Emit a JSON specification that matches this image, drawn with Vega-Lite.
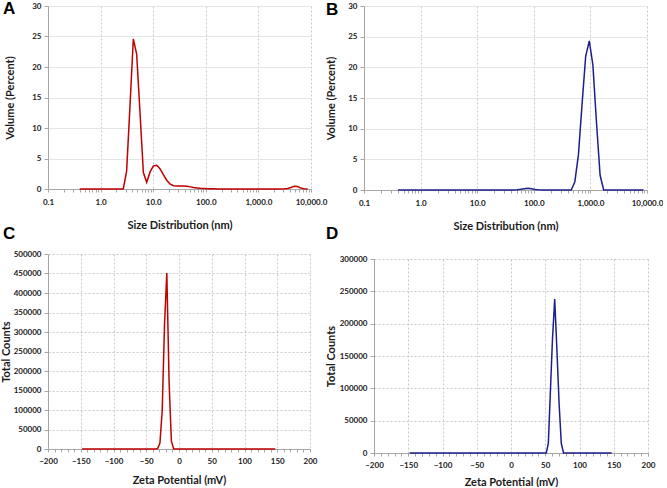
{
  "$schema": "https://vega.github.io/schema/vega-lite/v6.json",
  "padding": {"left": 0, "top": 0, "right": 0, "bottom": 0},
  "config": {
    "view": {"stroke": null},
    "font": "Lato",
    "axis": {
      "labelFont": "Lato", "labelFontWeight": "bold", "labelFontSize": 8, "labelColor": "#1a1a1a", "labelFlush": false,
      "titleFont": "Lato", "titleFontWeight": "bold", "titleFontSize": 11, "titleColor": "#1a1a1a",
      "domainColor": "#a6a6a6", "tickColor": "#a6a6a6", "labelOverlap": false, "labelBound": false,
      "gridColor": "#c8c8c8", "gridDash": [2, 2]
    },
    "title": {"font": "Liberation Sans", "fontSize": 17, "fontWeight": "bold", "anchor": "start", "orient": "none", "offset": 0, "baseline": "top", "align": "left", "color": "#000000"}
  },
  "datasets": {
    "A": [
      {"size": 0.4, "volume": 0}, {"size": 0.4632, "volume": 0}, {"size": 0.5365, "volume": 0}, {"size": 0.6213, "volume": 0},
      {"size": 0.7195, "volume": 0}, {"size": 0.8332, "volume": 0}, {"size": 0.965, "volume": 0}, {"size": 1.117, "volume": 0},
      {"size": 1.294, "volume": 0}, {"size": 1.499, "volume": 0}, {"size": 1.736, "volume": 0}, {"size": 2.01, "volume": 0},
      {"size": 2.328, "volume": 0}, {"size": 2.696, "volume": 0}, {"size": 3.122, "volume": 2.9}, {"size": 3.615, "volume": 13.5},
      {"size": 4.187, "volume": 24.6}, {"size": 4.849, "volume": 22.1}, {"size": 5.615, "volume": 12.5}, {"size": 6.503, "volume": 2.7},
      {"size": 7.531, "volume": 1.1}, {"size": 8.721, "volume": 2.8}, {"size": 10.1, "volume": 3.8}, {"size": 11.7, "volume": 3.9},
      {"size": 13.54, "volume": 3.3}, {"size": 15.69, "volume": 2.3}, {"size": 18.17, "volume": 1.4}, {"size": 21.04, "volume": 0.8},
      {"size": 24.36, "volume": 0.55}, {"size": 28.21, "volume": 0.5}, {"size": 32.67, "volume": 0.5}, {"size": 37.84, "volume": 0.5},
      {"size": 43.82, "volume": 0.45}, {"size": 50.75, "volume": 0.35}, {"size": 58.77, "volume": 0.25}, {"size": 68.06, "volume": 0.18},
      {"size": 78.82, "volume": 0.12}, {"size": 91.28, "volume": 0.08}, {"size": 105.7, "volume": 0.05}, {"size": 122.4, "volume": 0.04},
      {"size": 141.8, "volume": 0.03}, {"size": 164.2, "volume": 0.02}, {"size": 190.1, "volume": 0.02}, {"size": 220.2, "volume": 0.01},
      {"size": 255, "volume": 0.01}, {"size": 295.3, "volume": 0}, {"size": 342, "volume": 0}, {"size": 396.1, "volume": 0},
      {"size": 458.7, "volume": 0}, {"size": 531.2, "volume": 0}, {"size": 615.1, "volume": 0}, {"size": 712.4, "volume": 0},
      {"size": 825, "volume": 0}, {"size": 955.4, "volume": 0}, {"size": 1106, "volume": 0}, {"size": 1281, "volume": 0},
      {"size": 1484, "volume": 0}, {"size": 1718, "volume": 0}, {"size": 1990, "volume": 0}, {"size": 2305, "volume": 0},
      {"size": 2669, "volume": 0}, {"size": 3091, "volume": 0.03}, {"size": 3580, "volume": 0.1}, {"size": 4145, "volume": 0.25},
      {"size": 4801, "volume": 0.45}, {"size": 5560, "volume": 0.4}, {"size": 6439, "volume": 0.15}, {"size": 7456, "volume": 0.02},
      {"size": 8635, "volume": 0}
    ],
    "B": [
      {"size": 0.4, "volume": 0}, {"size": 0.4632, "volume": 0}, {"size": 0.5365, "volume": 0}, {"size": 0.6213, "volume": 0},
      {"size": 0.7195, "volume": 0}, {"size": 0.8332, "volume": 0}, {"size": 0.965, "volume": 0}, {"size": 1.117, "volume": 0},
      {"size": 1.294, "volume": 0}, {"size": 1.499, "volume": 0}, {"size": 1.736, "volume": 0}, {"size": 2.01, "volume": 0},
      {"size": 2.328, "volume": 0}, {"size": 2.696, "volume": 0}, {"size": 3.122, "volume": 0}, {"size": 3.615, "volume": 0},
      {"size": 4.187, "volume": 0}, {"size": 4.849, "volume": 0}, {"size": 5.615, "volume": 0}, {"size": 6.503, "volume": 0},
      {"size": 7.531, "volume": 0}, {"size": 8.721, "volume": 0}, {"size": 10.1, "volume": 0}, {"size": 11.7, "volume": 0},
      {"size": 13.54, "volume": 0}, {"size": 15.69, "volume": 0}, {"size": 18.17, "volume": 0}, {"size": 21.04, "volume": 0},
      {"size": 24.36, "volume": 0}, {"size": 28.21, "volume": 0}, {"size": 32.67, "volume": 0}, {"size": 37.84, "volume": 0},
      {"size": 43.82, "volume": 0.02}, {"size": 50.75, "volume": 0.05}, {"size": 58.77, "volume": 0.12}, {"size": 68.06, "volume": 0.22},
      {"size": 78.82, "volume": 0.28}, {"size": 91.28, "volume": 0.22}, {"size": 105.7, "volume": 0.1}, {"size": 122.4, "volume": 0.03},
      {"size": 141.8, "volume": 0}, {"size": 164.2, "volume": 0}, {"size": 190.1, "volume": 0}, {"size": 220.2, "volume": 0},
      {"size": 255, "volume": 0}, {"size": 295.3, "volume": 0}, {"size": 342, "volume": 0}, {"size": 396.1, "volume": 0},
      {"size": 458.7, "volume": 0}, {"size": 531.2, "volume": 1.35}, {"size": 615.1, "volume": 5.8}, {"size": 712.4, "volume": 14},
      {"size": 825, "volume": 21.8}, {"size": 955.4, "volume": 24.3}, {"size": 1106, "volume": 20.4}, {"size": 1281, "volume": 11},
      {"size": 1484, "volume": 2.4}, {"size": 1718, "volume": 0}, {"size": 1990, "volume": 0}, {"size": 2305, "volume": 0},
      {"size": 2669, "volume": 0}, {"size": 3091, "volume": 0}, {"size": 3580, "volume": 0}, {"size": 4145, "volume": 0},
      {"size": 4801, "volume": 0}, {"size": 5560, "volume": 0}, {"size": 6439, "volume": 0}, {"size": 7456, "volume": 0},
      {"size": 8635, "volume": 0}
    ],
    "C": [
      {"zeta": -148, "counts": 0}, {"zeta": -100, "counts": 0}, {"zeta": -50, "counts": 0}, {"zeta": -36.1, "counts": 0},
      {"zeta": -32.6, "counts": 1000}, {"zeta": -29.1, "counts": 15000}, {"zeta": -25.6, "counts": 100000}, {"zeta": -22.1, "counts": 320000},
      {"zeta": -18.6, "counts": 451000}, {"zeta": -15.1, "counts": 170000}, {"zeta": -11.6, "counts": 20000}, {"zeta": -8.1, "counts": 0},
      {"zeta": 0, "counts": 0}, {"zeta": 50, "counts": 0}, {"zeta": 100, "counts": 0}, {"zeta": 147, "counts": 0}
    ],
    "D": [
      {"zeta": -148, "counts": 0}, {"zeta": -100, "counts": 0}, {"zeta": -50, "counts": 0}, {"zeta": 0, "counts": 0},
      {"zeta": 48.5, "counts": 0}, {"zeta": 51.5, "counts": 0}, {"zeta": 54.5, "counts": 15000}, {"zeta": 57.5, "counts": 95000},
      {"zeta": 60.5, "counts": 175000}, {"zeta": 63.8, "counts": 238000}, {"zeta": 67, "counts": 160000}, {"zeta": 70.3, "counts": 75000},
      {"zeta": 73.4, "counts": 15000}, {"zeta": 76.7, "counts": 0}, {"zeta": 100, "counts": 0}, {"zeta": 147, "counts": 0}
    ]
  },
  "concat": [
    {
      "width": 263, "height": 183,
      "title": {"text": "A", "dx": -45, "dy": -5},
      "data": {"name": "A"},
      "mark": {"type": "line", "color": "#C00000", "strokeWidth": 1.5},
      "encoding": {
        "x": {"field": "size", "type": "quantitative", "title": "Size Distribution (nm)",
          "scale": {"type": "log", "domain": [0.1, 10000]},
          "axis": {"values": [0.1,0.2,0.3,0.4,0.5,0.6,0.7,0.8,0.9,1,2,3,4,5,6,7,8,9,10,20,30,40,50,60,70,80,90,100,200,300,400,500,600,700,800,900,1000,2000,3000,4000,5000,6000,7000,8000,9000,10000],
            "labelExpr": "indexof([0.1,1,10,100,1000,10000], datum.value) >= 0 ? format(datum.value, ',.1f') : ''",
            "gridOpacity": {"condition": {"test": "indexof([0.1,1,10,100,1000,10000], datum.value) >= 0", "value": 1}, "value": 0},
            "tickSize": 3, "labelPadding": 6, "titlePadding": 13}},
        "y": {"field": "volume", "type": "quantitative", "title": "Volume (Percent)",
          "scale": {"domain": [0, 30]},
          "axis": {"values": [0,5,10,15,20,25,30], "gridDash": [], "gridColor": "#e4e4e4", "tickSize": 4, "labelPadding": 3, "titlePadding": 16}}
      }
    },
    {
      "width": 283, "height": 184,
      "title": {"text": "B", "dx": -38, "dy": -4},
      "data": {"name": "B"},
      "mark": {"type": "line", "color": "#1F1F8C", "strokeWidth": 1.5},
      "encoding": {
        "x": {"field": "size", "type": "quantitative", "title": "Size Distribution (nm)",
          "scale": {"type": "log", "domain": [0.1, 10000]},
          "axis": {"values": [0.1,0.2,0.3,0.4,0.5,0.6,0.7,0.8,0.9,1,2,3,4,5,6,7,8,9,10,20,30,40,50,60,70,80,90,100,200,300,400,500,600,700,800,900,1000,2000,3000,4000,5000,6000,7000,8000,9000,10000],
            "labelExpr": "indexof([0.1,1,10,100,1000,10000], datum.value) >= 0 ? format(datum.value, ',.1f') : ''",
            "gridOpacity": {"condition": {"test": "indexof([0.1,1,10,100,1000,10000], datum.value) >= 0", "value": 1}, "value": 0},
            "tickSize": 3, "labelPadding": 6, "titlePadding": 13}},
        "y": {"field": "volume", "type": "quantitative", "title": "Volume (Percent)",
          "scale": {"domain": [0, 30]},
          "axis": {"values": [0,5,10,15,20,25,30], "gridDash": [], "gridColor": "#e4e4e4", "tickSize": 4, "labelPadding": 3, "titlePadding": 11}}
      }
    },
    {
      "width": 262, "height": 195,
      "title": {"text": "C", "dx": -45, "dy": -28},
      "data": {"name": "C"},
      "mark": {"type": "line", "color": "#C00000", "strokeWidth": 1.5},
      "encoding": {
        "x": {"field": "zeta", "type": "quantitative", "title": "Zeta Potential (mV)",
          "scale": {"domain": [-200, 200]},
          "axis": {"values": [-200,-190,-180,-170,-160,-150,-140,-130,-120,-110,-100,-90,-80,-70,-60,-50,-40,-30,-20,-10,0,10,20,30,40,50,60,70,80,90,100,110,120,130,140,150,160,170,180,190,200],
            "labelExpr": "datum.value % 50 == 0 ? format(datum.value, 'd') : ''",
            "gridOpacity": {"condition": {"test": "datum.value % 50 == 0", "value": 1}, "value": 0},
            "tickSize": 3, "labelPadding": 5, "titlePadding": 9}},
        "y": {"field": "counts", "type": "quantitative", "title": "Total Counts",
          "scale": {"domain": [0, 500000]},
          "axis": {"values": [0,50000,100000,150000,200000,250000,300000,350000,400000,450000,500000], "format": "d", "tickSize": 4, "labelPadding": 3, "titlePadding": 2}}
      }
    },
    {
      "width": 274, "height": 194,
      "title": {"text": "D", "dx": -48, "dy": -33},
      "data": {"name": "D"},
      "mark": {"type": "line", "color": "#1F1F8C", "strokeWidth": 1.5},
      "encoding": {
        "x": {"field": "zeta", "type": "quantitative", "title": "Zeta Potential (mV)",
          "scale": {"domain": [-200, 200]},
          "axis": {"values": [-200,-190,-180,-170,-160,-150,-140,-130,-120,-110,-100,-90,-80,-70,-60,-50,-40,-30,-20,-10,0,10,20,30,40,50,60,70,80,90,100,110,120,130,140,150,160,170,180,190,200],
            "labelExpr": "datum.value % 50 == 0 ? format(datum.value, 'd') : ''",
            "gridOpacity": {"condition": {"test": "datum.value % 50 == 0", "value": 1}, "value": 0},
            "tickSize": 3, "labelPadding": 5, "titlePadding": 7}},
        "y": {"field": "counts", "type": "quantitative", "title": "Total Counts",
          "scale": {"domain": [0, 300000]},
          "axis": {"values": [0,50000,100000,150000,200000,250000,300000], "format": "d", "tickSize": 4, "labelPadding": 3, "titlePadding": 3}}
      }
    }
  ],
  "columns": 2,
  "align": "none",
  "bounds": "full",
  "spacing": {"row": -6, "column": -2}
}
